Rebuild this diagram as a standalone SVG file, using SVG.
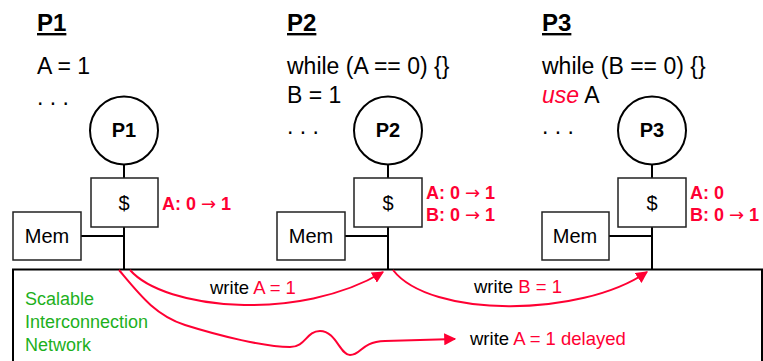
<svg xmlns="http://www.w3.org/2000/svg" width="763" height="361" viewBox="0 0 763 361">
<style>
text{font-family:"Liberation Sans",Arial,sans-serif;fill:#000}
.title{font-size:24px;font-weight:bold;text-decoration:underline}
.code{font-size:23px}
.proc{font-size:20px;font-weight:bold}
.box{fill:#fff;stroke:#222;stroke-width:1.5}
.lbl{font-size:20px}
.state{font-size:18px;font-weight:bold;fill:#FF0033}
.ar{font-family:"DejaVu Sans",sans-serif;font-weight:normal}
.red{fill:#FF0033}
.net{font-size:18.5px}
.green{font-size:18px;fill:#1DB01D}
.wire{stroke:#000;stroke-width:2;fill:none}
.arr{stroke:#FF0033;stroke-width:2;fill:none}
</style>
<defs>
<marker id="ah" viewBox="0 0 10 10" refX="9" refY="5" markerWidth="6" markerHeight="6" orient="auto" markerUnits="strokeWidth">
<path d="M0,0 L10,5 L0,10 z" fill="#FF0033"/>
</marker>
</defs>
<rect width="763" height="361" fill="#fff"/>

<g id="network">
<rect x="13" y="269.5" width="749" height="110" fill="none" stroke="#000" stroke-width="2"/>
<text class="green" x="25" y="305">Scalable</text>
<text class="green" x="25" y="328">Interconnection</text>
<text class="green" x="25" y="351">Network</text>
</g>

<g id="connectors">
<line class="wire" x1="124" y1="164" x2="124" y2="178"/>
<line class="wire" x1="124" y1="227" x2="124" y2="269"/>
<line class="wire" x1="81" y1="236" x2="124" y2="236"/>
<line class="wire" x1="388" y1="164" x2="388" y2="178"/>
<line class="wire" x1="388" y1="227" x2="388" y2="269"/>
<line class="wire" x1="345" y1="236" x2="388" y2="236"/>
<line class="wire" x1="652" y1="164" x2="652" y2="178"/>
<line class="wire" x1="652" y1="227" x2="652" y2="269"/>
<line class="wire" x1="609" y1="236" x2="652" y2="236"/>
<path class="arr" d="M130,270 C165,310 300,322 383,272" marker-end="url(#ah)"/>
<path class="arr" d="M393,270 C430,318 580,318 647,272" marker-end="url(#ah)"/>
<path class="arr" d="M119,270 C140,295 155,315 185,325 C220,336 265,347 290,347 C306,347 306,331 320,331 C336,331 340,355 350,355 C362,355 360,342 385,341 L455,339" marker-end="url(#ah)"/>
<text class="net" x="210" y="294">write <tspan class="red">A = 1</tspan></text>
<text class="net" x="474" y="293">write <tspan class="red">B = 1</tspan></text>
<text class="net" x="470" y="345">write <tspan class="red">A = 1 delayed</tspan></text>
</g>

<g id="p1">
<text class="title" x="37" y="31">P1</text>
<text class="code" x="37" y="74">A = 1</text>
<text class="code" x="37" y="105">. . .</text>
<circle cx="124" cy="130.5" r="34" fill="#fff" stroke="#000" stroke-width="2"/>
<text class="proc" x="124" y="137" text-anchor="middle">P1</text>
</g>
<g id="cache1">
<rect class="box" x="91" y="178" width="67" height="49"/>
<text class="lbl" x="124" y="210" text-anchor="middle">$</text>
<text class="state" x="162" y="210">A: 0 <tspan class="ar">→</tspan> 1</text>
</g>
<g id="mem1">
<rect class="box" x="13" y="212" width="68" height="48"/>
<text class="lbl" x="47" y="243" text-anchor="middle">Mem</text>
</g>

<g id="p2">
<text class="title" x="287" y="31">P2</text>
<text class="code" x="287" y="74">while (A == 0) {}</text>
<text class="code" x="287" y="103">B = 1</text>
<text class="code" x="287" y="134">. . .</text>
<circle cx="388" cy="130.5" r="34" fill="#fff" stroke="#000" stroke-width="2"/>
<text class="proc" x="388" y="137" text-anchor="middle">P2</text>
</g>
<g id="cache2">
<rect class="box" x="354" y="178" width="68" height="49"/>
<text class="lbl" x="388" y="210" text-anchor="middle">$</text>
<text class="state" x="426" y="199">A: 0 <tspan class="ar">→</tspan> 1</text>
<text class="state" x="426" y="221">B: 0 <tspan class="ar">→</tspan> 1</text>
</g>
<g id="mem2">
<rect class="box" x="277" y="212" width="68" height="48"/>
<text class="lbl" x="311" y="243" text-anchor="middle">Mem</text>
</g>

<g id="p3">
<text class="title" x="542" y="31">P3</text>
<text class="code" x="542" y="74">while (B == 0) {}</text>
<text class="code" x="542" y="103"><tspan class="red" font-style="italic">use</tspan> A</text>
<text class="code" x="542" y="134">. . .</text>
<circle cx="652" cy="130.5" r="34" fill="#fff" stroke="#000" stroke-width="2"/>
<text class="proc" x="652" y="137" text-anchor="middle">P3</text>
</g>
<g id="cache3">
<rect class="box" x="618" y="178" width="68" height="49"/>
<text class="lbl" x="652" y="210" text-anchor="middle">$</text>
<text class="state" x="690" y="199">A: 0</text>
<text class="state" x="690" y="221">B: 0 <tspan class="ar">→</tspan> 1</text>
</g>
<g id="mem3">
<rect class="box" x="542" y="212" width="67" height="48"/>
<text class="lbl" x="575" y="243" text-anchor="middle">Mem</text>
</g>
</svg>
